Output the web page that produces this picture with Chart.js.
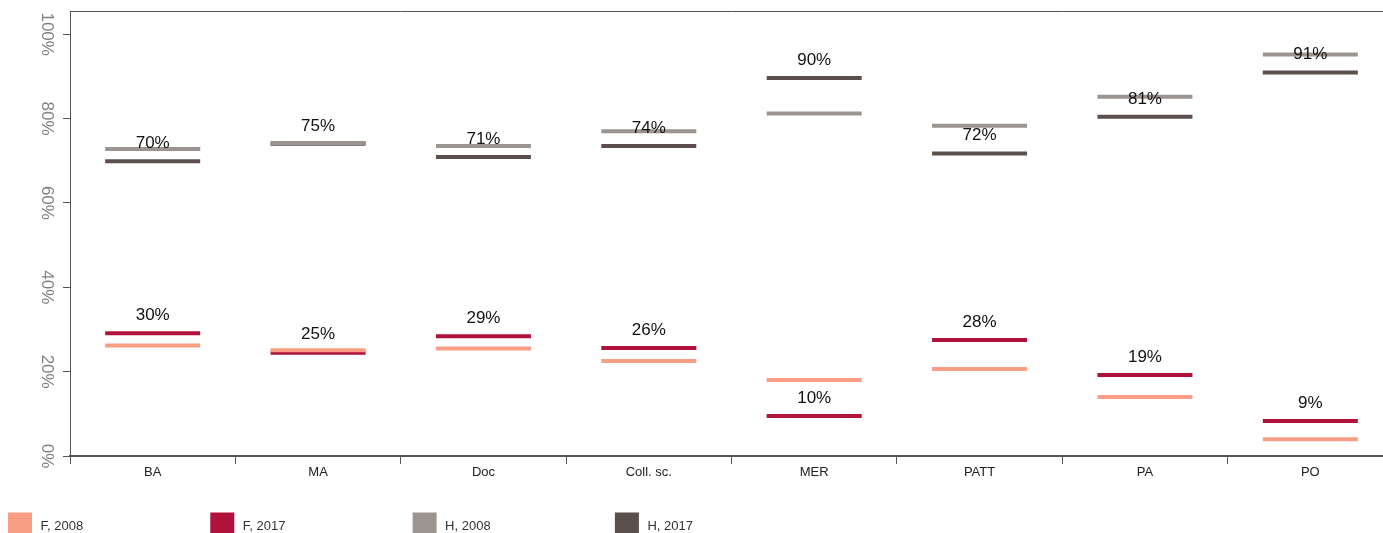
<!DOCTYPE html>
<html>
<head>
<meta charset="utf-8">
<script src="https://cdn.jsdelivr.net/npm/chart.js@4.4.1/dist/chart.umd.min.js"></script>
<style>
  html, body { margin: 0; padding: 0; background: #fff; overflow: hidden; }
  #wrap { width: 1393px; height: 533px; }
</style>
</head>
<body>
<div id="wrap"><canvas id="chartCanvas" width="1393" height="533"></canvas></div>
<script>
const categories = ['BA', 'MA', 'Doc', 'Coll. sc.', 'MER', 'PATT', 'PA', 'PO'];

// shares (%)
const f2008 = [26.2, 25.1, 25.5, 22.5, 18.0, 20.6, 14.0, 4.0];
const f2017 = [29.1, 24.5, 28.4, 25.6, 9.5, 27.5, 19.2, 8.3];
const h2008 = [72.8, 74.2, 73.5, 77.0, 81.2, 78.3, 85.2, 95.2];
const h2017 = [69.9, 74.0, 70.9, 73.5, 89.6, 71.7, 80.4, 90.9];

// value labels printed above the 2017 marks
const f2017Labels = ['30%', '25%', '29%', '26%', '10%', '28%', '19%', '9%'];
const h2017Labels = ['70%', '75%', '71%', '74%', '90%', '72%', '81%', '91%'];

const yTicks = [0, 20, 40, 60, 80, 100];

const FONT = "'Liberation Sans', Arial, sans-serif";

function markSet(label, data, color) {
  return {
    label: label,
    data: data,
    showLine: false,
    clip: false,
    pointStyle: 'line',
    pointRadius: 47.5,
    pointHoverRadius: 47.5,
    pointBorderWidth: 4,
    pointBorderColor: color,
    pointBackgroundColor: color,
    borderColor: color,
    backgroundColor: color
  };
}

// value labels, y tick labels, top frame line and legend
const extras = {
  id: 'extras',
  afterDatasetsDraw(chart) {
    const ctx = chart.ctx;
    const area = chart.chartArea;
    ctx.save();

    // top frame line
    ctx.strokeStyle = '#555';
    ctx.lineWidth = 1;
    ctx.beginPath();
    ctx.moveTo(area.left, area.top + 0.5);
    ctx.lineTo(chart.width, area.top + 0.5);
    ctx.stroke();

    // value labels
    ctx.fillStyle = '#111';
    ctx.font = '17px ' + FONT;
    ctx.textAlign = 'center';
    ctx.textBaseline = 'middle';
    [[1, f2017Labels], [3, h2017Labels]].forEach(([idx, labels]) => {
      chart.getDatasetMeta(idx).data.forEach((pt, i) => {
        ctx.fillText(labels[i], pt.x, pt.y - 18);
      });
    });

    // rotated y tick labels
    const y = chart.scales.y;
    ctx.fillStyle = '#808080';
    yTicks.forEach(v => {
      ctx.save();
      ctx.translate(47, y.getPixelForValue(v));
      ctx.rotate(Math.PI / 2);
      ctx.fillText(v + '%', 0, 0);
      ctx.restore();
    });

    // legend
    ctx.font = '13px ' + FONT;
    ctx.textAlign = 'left';
    chart.data.datasets.forEach((ds, i) => {
      const x = 8 + i * 202.3;
      ctx.fillStyle = ds.backgroundColor;
      ctx.fillRect(x, 512.5, 24, 22);
      ctx.fillStyle = '#333';
      ctx.fillText(ds.label, x + 32.5, 526);
    });
    ctx.restore();
  }
};

new Chart(document.getElementById('chartCanvas'), {
  type: 'line',
  data: {
    labels: categories,
    datasets: [
      markSet('F, 2008', f2008, '#F99D85'),
      markSet('F, 2017', f2017, '#B0123B'),
      markSet('H, 2008', h2008, '#9C9490'),
      markSet('H, 2017', h2017, '#5A4F4C')
    ]
  },
  options: {
    responsive: false,
    animation: false,
    events: [],
    layout: { autoPadding: false, padding: { top: 11, bottom: 47, left: 0, right: 0 } },
    plugins: {
      legend: { display: false },
      tooltip: { enabled: false }
    },
    scales: {
      x: {
        offset: true,
        grid: {
          offset: true,
          drawOnChartArea: false,
          drawTicks: true,
          tickLength: 8,
          color: '#555',
          lineWidth: 1
        },
        border: { display: true, color: '#555', width: 2 },
        ticks: {
          color: '#222',
          font: { family: FONT, size: 13 },
          padding: 1,
          maxRotation: 0,
          autoSkip: false
        },
        afterFit(scale) { scale.height = 30; }
      },
      y: {
        min: 0,
        max: 105.5,
        grid: {
          drawOnChartArea: false,
          drawTicks: true,
          tickLength: 7,
          color: '#555',
          lineWidth: 1
        },
        border: { display: true, color: '#555', width: 1 },
        ticks: { display: false, stepSize: 20, includeBounds: false },
        afterFit(scale) { scale.width = 70; }
      }
    }
  },
  plugins: [extras]
});
</script>
</body>
</html>
